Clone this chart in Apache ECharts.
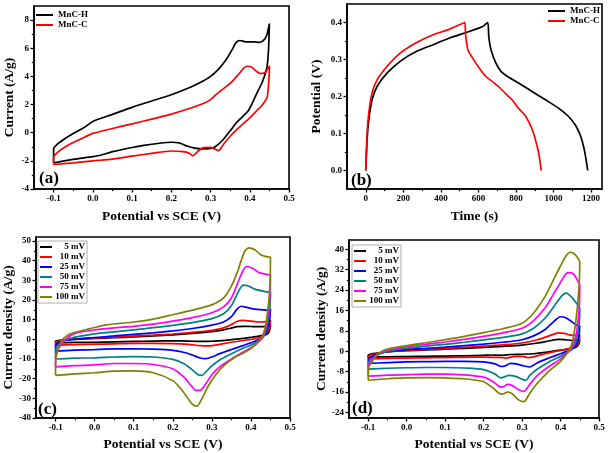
<!DOCTYPE html>
<html><head><meta charset="utf-8">
<script src="https://cdn.jsdelivr.net/npm/echarts@6/dist/echarts.min.js"></script>
<style>html,body{margin:0;padding:0;background:#fff}#c{width:609px;height:453px}</style>
</head><body><div id="c"></div>
<script>
// ---------- DATA ----------
// (a) CV at one scan rate: [potential V, current A/g]
const cvA_H = [[-0.1,-2.14],[-0.1,-1.15],[-0.09,-0.8],[-0.07,-0.4],[-0.05,-0.05],[-0.02,0.4],[0,0.8],[0.05,1.3],[0.1,1.8],[0.15,2.25],[0.2,2.7],[0.25,3.25],[0.28,3.65],[0.3,4.0],[0.32,4.5],[0.34,5.2],[0.355,5.9],[0.365,6.4],[0.375,6.55],[0.39,6.45],[0.41,6.45],[0.425,6.42],[0.435,6.55],[0.443,6.9],[0.45,7.75],
 [0.448,6.0],[0.444,4.7],[0.432,3.6],[0.418,2.8],[0.397,1.6],[0.369,0.8],[0.349,0.1],[0.332,-0.5],[0.312,-1.0],[0.3,-1.12],[0.28,-1.16],[0.26,-1.1],[0.24,-0.95],[0.22,-0.72],[0.2,-0.68],[0.17,-0.75],[0.13,-0.9],[0.1,-1.05],[0.05,-1.35],[0.02,-1.6],[0,-1.7],[-0.05,-1.9],[-0.1,-2.14]];
const cvA_C = [[-0.1,-2.26],[-0.1,-1.75],[-0.09,-1.4],[-0.07,-1.0],[-0.05,-0.7],[-0.02,-0.3],[0,-0.05],[0.05,0.3],[0.1,0.63],[0.15,0.96],[0.2,1.32],[0.25,1.75],[0.28,2.05],[0.3,2.35],[0.32,2.85],[0.35,3.5],[0.37,4.1],[0.385,4.6],[0.395,4.72],[0.405,4.65],[0.42,4.3],[0.43,4.2],[0.44,4.3],[0.45,4.75],
 [0.45,4.5],[0.448,3.5],[0.444,2.5],[0.43,1.9],[0.42,1.63],[0.4,1.05],[0.37,0.3],[0.35,-0.25],[0.335,-0.75],[0.32,-1.28],[0.31,-1.15],[0.3,-1.05],[0.28,-1.08],[0.265,-1.4],[0.255,-1.64],[0.245,-1.45],[0.23,-1.35],[0.2,-1.3],[0.15,-1.47],[0.1,-1.67],[0.05,-1.88],[0,-2.0],[-0.05,-2.14],[-0.1,-2.26]];
// (b) galvanostatic charge/discharge: [time s, potential V]
const gcd_H = [[0,0],[7,0.083],[16,0.137],[33,0.19],[60,0.227],[113,0.263],[183,0.295],[271,0.322],[359,0.34],[447,0.358],[535,0.373],[623,0.389],[649,0.4],
 [655,0.362],[667,0.326],[693,0.29],[720,0.268],[755,0.254],[816,0.236],[887,0.213],[957,0.191],[1028,0.168],[1080,0.146],[1116,0.123],[1142,0.096],[1160,0.065],[1172,0.033],[1182,0]];
const gcd_C = [[0,0],[7,0.1],[16,0.155],[33,0.209],[60,0.245],[113,0.281],[183,0.317],[271,0.346],[359,0.367],[447,0.382],[528,0.4],
 [531,0.37],[544,0.326],[570,0.303],[600,0.28],[640,0.254],[680,0.238],[711,0.225],[750,0.205],[781,0.19],[810,0.17],[852,0.146],[887,0.11],[913,0.065],[925,0.035],[934,0]];
// (c) CV of MnC-H at several scan rates: [potential V, current density A/g]
const cvC_5 = [[-0.1,-1.8],[-0.1,-1.0],[-0.08,-0.3],[-0.05,0],[0,0.4],[0.05,0.8],[0.1,1.2],[0.15,1.7],[0.2,2.3],[0.25,3.0],[0.3,3.9],[0.33,4.8],[0.35,5.7],[0.365,6.4],[0.38,6.6],[0.4,6.5],[0.42,6.4],[0.44,6.6],[0.45,7.5],
 [0.447,4.0],[0.44,2.5],[0.42,1.6],[0.4,1.0],[0.37,0.2],[0.34,-0.4],[0.3,-1.0],[0.27,-1.1],[0.24,-0.9],[0.2,-0.8],[0.15,-0.9],[0.1,-1.1],[0.05,-1.3],[0,-1.5],[-0.05,-1.6],[-0.1,-1.8]];
const cvC_10 = [[-0.1,-3.0],[-0.1,-1.8],[-0.085,-0.6],[-0.06,0],[0,0.6],[0.05,1.1],[0.1,1.6],[0.15,2.1],[0.2,2.7],[0.25,3.5],[0.3,4.6],[0.33,5.8],[0.35,7.5],[0.365,9.2],[0.38,9.6],[0.4,9.2],[0.42,8.8],[0.44,9.0],[0.45,9.8],
 [0.448,6],[0.44,3.5],[0.43,1.5],[0.41,0.3],[0.38,-0.6],[0.35,-1.5],[0.32,-2.6],[0.29,-3.3],[0.27,-3.2],[0.24,-2.6],[0.2,-2.2],[0.15,-2.1],[0.1,-2.1],[0.05,-2.3],[0,-2.5],[-0.05,-2.7],[-0.1,-3.0]];
const cvC_25 = [[-0.1,-6.0],[-0.1,-3.5],[-0.09,-1.5],[-0.07,-0.3],[-0.04,0.2],[0,0.9],[0.05,1.7],[0.1,2.5],[0.15,3.3],[0.2,4.3],[0.25,5.5],[0.3,7.2],[0.33,8.8],[0.35,11.5],[0.365,15.5],[0.375,16.8],[0.39,16.2],[0.41,15.3],[0.43,15.0],[0.445,14.8],[0.45,15.5],
 [0.448,10],[0.44,4],[0.43,1],[0.41,-1],[0.38,-3.2],[0.35,-5.2],[0.32,-7.3],[0.3,-9.0],[0.285,-9.8],[0.27,-9.5],[0.25,-8.0],[0.23,-6.7],[0.2,-5.6],[0.15,-5.0],[0.1,-4.8],[0.05,-4.9],[0,-5.2],[-0.05,-5.5],[-0.1,-6.0]];
const cvC_50 = [[-0.1,-10.0],[-0.1,-6],[-0.09,-2.5],[-0.07,0],[-0.04,1.5],[0,2.8],[0.05,3.8],[0.1,4.8],[0.15,5.9],[0.2,7.1],[0.25,8.5],[0.3,10.5],[0.33,13],[0.35,17],[0.365,23],[0.38,27.5],[0.395,27],[0.41,25.5],[0.43,24.5],[0.445,24],[0.45,24],
 [0.448,15],[0.44,6],[0.43,1],[0.41,-2],[0.38,-4.5],[0.35,-7.3],[0.32,-10.5],[0.3,-13.5],[0.285,-16.5],[0.275,-18.3],[0.265,-18],[0.25,-15.5],[0.23,-12.5],[0.2,-10.2],[0.15,-9],[0.1,-8.8],[0.05,-9],[0,-9.4],[-0.05,-9.6],[-0.1,-10.0]];
const cvC_75 = [[-0.1,-14],[-0.1,-9],[-0.09,-4],[-0.075,0],[-0.05,3],[0,4.8],[0.05,5.8],[0.1,6.6],[0.15,7.7],[0.2,9.2],[0.25,11],[0.3,13.5],[0.33,16.5],[0.35,21],[0.365,28],[0.38,35],[0.39,37],[0.405,36],[0.42,34],[0.44,33],[0.45,32.5],
 [0.448,20],[0.44,8],[0.43,1],[0.41,-3],[0.38,-6.5],[0.35,-10],[0.32,-14],[0.3,-18],[0.285,-22.5],[0.27,-26],[0.26,-26],[0.245,-23],[0.23,-19.5],[0.2,-15],[0.15,-12.8],[0.1,-12.3],[0.05,-12.3],[0,-13],[-0.05,-13.4],[-0.1,-14]];
const cvC_100 = [[-0.1,-18.3],[-0.1,-12],[-0.095,-6],[-0.085,-1],[-0.07,2],[-0.05,3.5],[-0.02,5],[0,6],[0.03,7.3],[0.06,8],[0.1,8.8],[0.15,10.3],[0.2,12.5],[0.25,14.8],[0.3,17.5],[0.33,21],[0.35,27],[0.365,34],[0.375,40],[0.385,45],[0.395,46.5],[0.41,45.5],[0.425,43],[0.44,42],[0.45,41.5],
 [0.448,25],[0.44,10],[0.43,2],[0.41,-3],[0.39,-6],[0.36,-9],[0.33,-13.5],[0.31,-18],[0.29,-24],[0.275,-30],[0.262,-34],[0.25,-33],[0.235,-29],[0.22,-25],[0.2,-21],[0.15,-17],[0.1,-16],[0.05,-16.2],[0,-17],[-0.05,-17.6],[-0.1,-18.3]];
// (d) CV of MnC-C at several scan rates
const cvD_5 = [[-0.1,-2.3],[-0.1,-1.5],[-0.08,-0.8],[-0.05,-0.3],[0,0.2],[0.05,0.5],[0.1,0.8],[0.15,1.1],[0.2,1.5],[0.25,1.9],[0.3,2.4],[0.34,3.2],[0.37,4.0],[0.395,4.6],[0.41,4.5],[0.43,4.2],[0.45,4.5],
 [0.448,3],[0.44,1.5],[0.42,0.8],[0.39,0.2],[0.36,-0.5],[0.33,-1.0],[0.3,-1.2],[0.27,-1.3],[0.25,-1.6],[0.22,-1.5],[0.2,-1.6],[0.15,-1.8],[0.1,-1.9],[0.05,-2.0],[0,-2.1],[-0.05,-2.2],[-0.1,-2.3]];
const cvD_10 = [[-0.1,-3.0],[-0.1,-2],[-0.08,-1],[-0.05,-0.2],[0,0.3],[0.05,0.7],[0.1,1.1],[0.15,1.5],[0.2,2.0],[0.25,2.5],[0.3,3.2],[0.34,4.5],[0.37,6],[0.395,7.2],[0.41,7.0],[0.43,6.2],[0.45,6.3],
 [0.448,4],[0.44,2],[0.42,1],[0.39,0],[0.36,-1],[0.33,-2.2],[0.315,-2.5],[0.3,-2.0],[0.28,-2.0],[0.26,-2.7],[0.24,-2.4],[0.2,-2.3],[0.15,-2.4],[0.1,-2.5],[0.05,-2.6],[0,-2.7],[-0.05,-2.8],[-0.1,-3.0]];
const cvD_25 = [[-0.1,-4.8],[-0.1,-3],[-0.08,-1.3],[-0.05,-0.2],[0,0.6],[0.05,1.1],[0.1,1.6],[0.15,2.2],[0.2,2.8],[0.25,3.5],[0.3,4.5],[0.33,6],[0.36,8.5],[0.385,12],[0.4,13.5],[0.415,13],[0.43,11.5],[0.445,10],[0.45,10],
 [0.448,6],[0.44,2.5],[0.43,0.8],[0.4,-1],[0.37,-2.7],[0.34,-4.5],[0.32,-6.2],[0.305,-5.8],[0.285,-5],[0.27,-4.8],[0.255,-5.8],[0.245,-6],[0.23,-5],[0.2,-4.2],[0.15,-4],[0.1,-4],[0.05,-4.1],[0,-4.2],[-0.05,-4.5],[-0.1,-4.8]];
const cvD_50 = [[-0.1,-7],[-0.1,-4.5],[-0.08,-2],[-0.06,-0.5],[-0.03,0.5],[0,1.2],[0.05,2],[0.1,2.7],[0.15,3.5],[0.2,4.4],[0.25,5.4],[0.3,6.8],[0.33,9],[0.36,13],[0.385,18],[0.405,22],[0.415,22.8],[0.43,21],[0.445,18],[0.45,17],
 [0.448,10],[0.44,4],[0.43,1],[0.4,-2],[0.37,-4.2],[0.34,-7],[0.32,-9.5],[0.31,-11.5],[0.3,-11],[0.285,-10],[0.265,-9.5],[0.255,-10],[0.245,-10.5],[0.23,-9],[0.2,-7.2],[0.15,-6.6],[0.1,-6.4],[0.05,-6.4],[0,-6.5],[-0.05,-6.7],[-0.1,-7]];
const cvD_75 = [[-0.1,-9.8],[-0.1,-6],[-0.085,-2.5],[-0.065,-0.3],[-0.03,1],[0,1.8],[0.05,2.7],[0.1,3.6],[0.15,4.6],[0.2,5.8],[0.25,7.2],[0.3,9],[0.33,12],[0.36,17],[0.38,22],[0.4,27],[0.415,30.5],[0.425,30.8],[0.435,30],[0.445,27.5],[0.45,26],
 [0.448,16],[0.44,6],[0.425,0.5],[0.4,-3],[0.37,-6],[0.34,-9.5],[0.32,-13],[0.305,-15.8],[0.29,-15],[0.275,-13.5],[0.262,-13],[0.25,-14],[0.24,-13.8],[0.225,-12],[0.2,-10.2],[0.15,-9.3],[0.1,-9],[0.05,-9],[0,-9.2],[-0.05,-9.4],[-0.1,-9.8]];
const cvD_100 = [[-0.1,-11.4],[-0.1,-7],[-0.085,-3],[-0.07,-0.5],[-0.04,1.2],[0,2.2],[0.05,3.3],[0.1,4.5],[0.15,5.8],[0.2,7.3],[0.25,8.8],[0.3,11],[0.33,15],[0.36,21.5],[0.38,27.5],[0.4,33.5],[0.415,37.5],[0.425,38.8],[0.435,38.3],[0.445,36.5],[0.45,35],
 [0.448,25],[0.44,12],[0.43,3],[0.42,0],[0.4,-4],[0.37,-7.8],[0.34,-12.5],[0.32,-16.5],[0.305,-19.8],[0.29,-19],[0.275,-16.8],[0.262,-16],[0.25,-16.8],[0.24,-16.5],[0.225,-14.5],[0.2,-12],[0.15,-10.8],[0.1,-10.5],[0.05,-10.4],[0,-10.5],[-0.05,-10.8],[-0.1,-11.4]];

const seriesNamesAB = ['MnC-H','MnC-C'];
const scanRates = ['5 mV','10 mV','25 mV','50 mV','75 mV','100 mV'];

// tick labels
const potTicks = [-0.1,0,0.1,0.2,0.3,0.4,0.5];
const potMinor = [-0.05,0.05,0.15,0.25,0.35,0.45];
const aYTicks = [-4,-2,0,2,4,6,8];
const aYMinor = [-3,-1,1,3,5,7];
const bXTicks = [0,200,400,600,800,1000,1200];
const bXMinor = [100,300,500,700,900,1100];
const bYTicks = [0,0.1,0.2,0.3,0.4];
const bYMinor = [0.05,0.15,0.25,0.35];
const cYTicks = [-40,-30,-20,-10,0,10,20,30,40,50];
const cYMinor = [-35,-25,-15,-5,5,15,25,35,45];
const dYTicks = [-24,-16,-8,0,8,16,24,32,40];
const dYMinor = [-20,-12,-4,4,12,20,28,36];

// ---------- STYLE / BUILD ----------
const colors6 = ['#000000','#ff0000','#0000ff','#008080','#ff00ff','#808000'];
const F = 'Liberation Serif, Times New Roman, serif';
const grids = [
  {left:34, top:6, width:255, height:183},
  {left:347, top:4, width:255, height:185},
  {left:36, top:237, width:254, height:182},
  {left:349, top:240, width:250, height:179}
].map(g => Object.assign({show:true, borderColor:'#000', borderWidth:1.6, backgroundColor:'#fff'}, g));

const xAxes = [], yAxes = [];
function addAxes(list, gi, pos, min, max, ticks, minor, fmt, name, gap) {
  const major = {
    type:'value', gridIndex:gi, position:pos, min:min, max:max,
    name:name, nameLocation:'middle', nameGap:gap,
    nameTextStyle:{fontFamily:F, fontWeight:'bold', fontSize:13.5, color:'#000'},
    axisLine:{show:true, onZero:false, lineStyle:{color:'#000', width:1.6}},
    axisTick:{show:true, length:3.5, customValues:ticks, lineStyle:{color:'#000', width:1.3}},
    axisLabel:{show:true, customValues:ticks, formatter:fmt, fontFamily:F, fontWeight:'bold', fontSize:9, color:'#000', margin:5},
    splitLine:{show:false}
  };
  const mnr = {
    type:'value', gridIndex:gi, position:pos, min:min, max:max,
    axisLine:{show:false, onZero:false},
    axisTick:{show:true, length:2.2, customValues:minor, lineStyle:{color:'#000', width:1.2}},
    axisLabel:{show:false}, splitLine:{show:false}
  };
  list.push(major, mnr);
  return list.length - 2;
}
const f1 = v => v.toFixed(1);
const f0 = v => String(Math.round(v));
const xa = addAxes(xAxes,0,'bottom',-0.15,0.5,potTicks,potMinor,f1,'Potential vs SCE (V)',21);
const ya = addAxes(yAxes,0,'left',-4,9,aYTicks,aYMinor,f0,'Current (A/g)',17);
const xb = addAxes(xAxes,1,'bottom',-100,1258,bXTicks,bXMinor,f0,'Time (s)',21);
const yb = addAxes(yAxes,1,'left',-0.05,0.45,bYTicks,bYMinor,f1,'Potential (V)',23);
const xc = addAxes(xAxes,2,'bottom',-0.15,0.5,potTicks,potMinor,f1,'Potential vs SCE (V)',20);
const yc = addAxes(yAxes,2,'left',-40,52,cYTicks,cYMinor,f0,'Current density (A/g)',18);
const xd = addAxes(xAxes,3,'bottom',-0.15,0.5,potTicks,potMinor,f1,'Potential vs SCE (V)',20);
const yd = addAxes(yAxes,3,'left',-26.2,43.6,dYTicks,dYMinor,f0,'Current density (A/g)',18);

function line(name, data, color, xi, yi) {
  return {type:'line', name:name, data:data, xAxisIndex:xi, yAxisIndex:yi,
    showSymbol:false, symbol:'none', smooth:0.25, animation:false,
    lineStyle:{color:color, width:1.7}, itemStyle:{color:color}};
}
const series = [
  line(seriesNamesAB[0], cvA_H, '#000', xa, ya),
  line(seriesNamesAB[1], cvA_C, '#ff0000', xa, ya),
  line(seriesNamesAB[0], gcd_H, '#000', xb, yb),
  line(seriesNamesAB[1], gcd_C, '#ff0000', xb, yb)
];
const cData = [cvC_5,cvC_10,cvC_25,cvC_50,cvC_75,cvC_100];
const dData = [cvD_5,cvD_10,cvD_25,cvD_50,cvD_75,cvD_100];
scanRates.forEach((n,i) => series.push(line(n, cData[i], colors6[i], xc, yc)));
scanRates.forEach((n,i) => series.push(line(n, dData[i], colors6[i], xd, yd)));

const legTxt = {fontFamily:F, fontWeight:'bold', fontSize:9, color:'#000', lineHeight:10};
function legend(pos, names, boxed, rightAlign, w) {
  const l = Object.assign({orient:'vertical', data:names, icon:'rect', itemWidth:w, itemHeight:2, itemGap:0,
    selectedMode:false, padding:boxed?[1,2,1,2]:0, textStyle:Object.assign({}, legTxt)}, pos);
  if (boxed) { l.borderColor = '#999'; l.borderWidth = 0.8; l.backgroundColor = '#fff'; }
  if (rightAlign) {
    l.formatter = n => '{r|' + n + '}';
    l.textStyle.rich = {r:{width:28, align:'right', fontFamily:F, fontWeight:'bold', fontSize:9, color:'#000', lineHeight:10}};
  }
  return l;
}
const panelLbl = (txt, x, y) => ({type:'text', left:x, top:y, z:100,
  style:{text:txt, font:'bold 17px ' + F, fill:'#000'}});

const option = {
  animation:false,
  backgroundColor:'#fff',
  grid:grids, xAxis:xAxes, yAxis:yAxes, series:series,
  legend:[
    legend({left:36, top:10}, seriesNamesAB, false, false, 17),
    legend({left:548, top:6}, seriesNamesAB, false, false, 17),
    legend({left:38, top:241}, scanRates, true, true, 12),
    legend({left:352, top:245}, scanRates, true, true, 12)
  ],
  graphic:[
    panelLbl('(a)', 39, 170),
    panelLbl('(b)', 351, 172),
    panelLbl('(c)', 38, 401),
    panelLbl('(d)', 352, 400)
  ]
};
const chart = echarts.init(document.getElementById('c'), null, {renderer:'canvas'});
chart.setOption(option);
</script></body></html>
